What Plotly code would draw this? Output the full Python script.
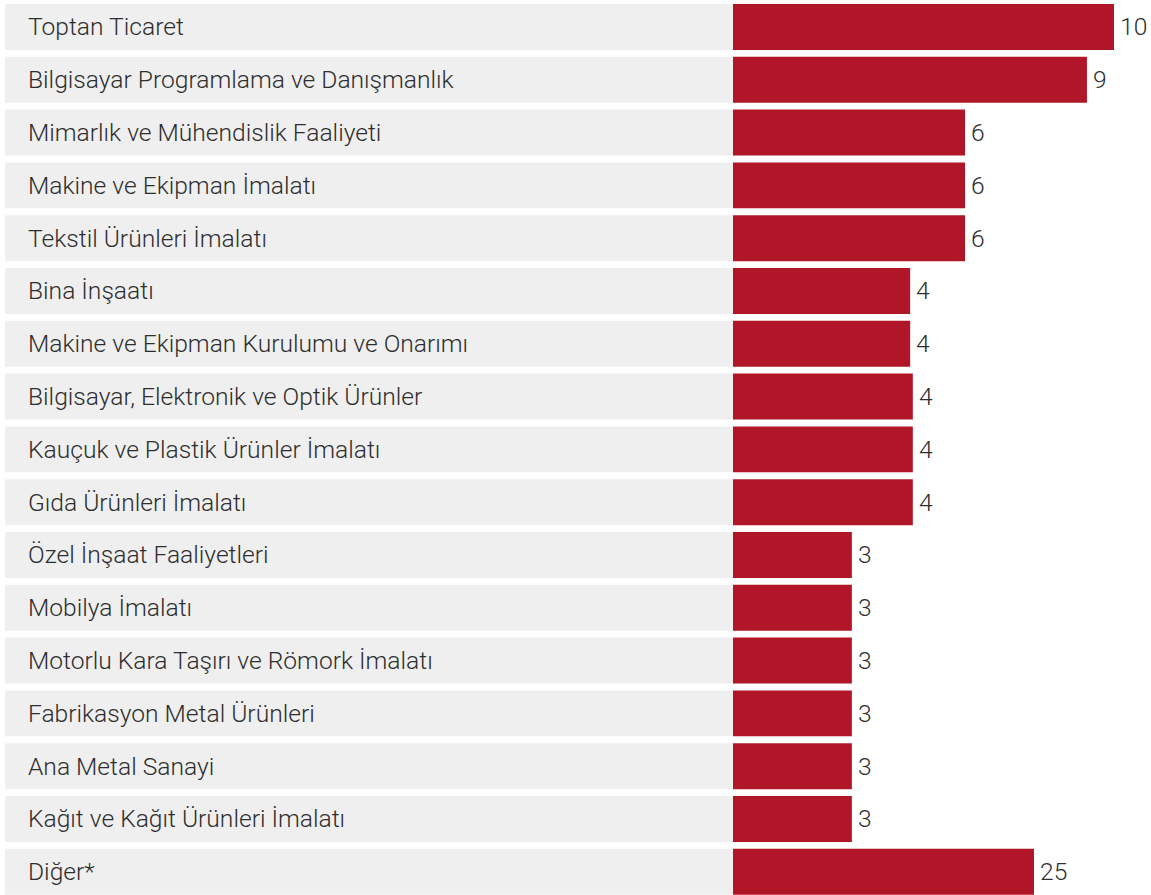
import plotly.graph_objects as go

categories = [
    "Toptan Ticaret",
    "Bilgisayar Programlama ve Danışmanlık",
    "Mimarlık ve Mühendislik Faaliyeti",
    "Makine ve Ekipman İmalatı",
    "Tekstil Ürünleri İmalatı",
    "Bina İnşaatı",
    "Makine ve Ekipman Kurulumu ve Onarımı",
    "Bilgisayar, Elektronik ve Optik Ürünler",
    "Kauçuk ve Plastik Ürünler İmalatı",
    "Gıda Ürünleri İmalatı",
    "Özel İnşaat Faaliyetleri",
    "Mobilya İmalatı",
    "Motorlu Kara Taşırı ve Römork İmalatı",
    "Fabrikasyon Metal Ürünleri",
    "Ana Metal Sanayi",
    "Kağıt ve Kağıt Ürünleri İmalatı",
    "Diğer*",
]
# displayed values (labels)
shares = [10, 9, 6, 6, 6, 4, 4, 4, 4, 4, 3, 3, 3, 3, 3, 3, 25]
# plotted bar lengths (the "Diğer*" bar is shortened in the original)
bar_lengths = [10.0, 9.29, 6.09, 6.09, 6.09, 4.65, 4.65, 4.72, 4.72, 4.72,
               3.12, 3.12, 3.12, 3.12, 3.12, 3.12, 7.9]
band = [1] * len(categories)

W, H = 1151, 895
RED = "#B01627"
GRAY = "#EFEFEF"
TXT = "#2E2E2E"
FONT = "Roboto"

fig = go.Figure()
fig.add_trace(go.Bar(
    y=categories, x=band, orientation="h", xaxis="x", yaxis="y",
    marker=dict(color=GRAY, line=dict(width=0)), hoverinfo="skip", showlegend=False,
))
fig.add_trace(go.Bar(
    y=categories, x=bar_lengths, orientation="h", xaxis="x2", yaxis="y",
    marker=dict(color=RED, line=dict(width=0)), showlegend=False,
    customdata=shares, hovertemplate="%{y}: %{customdata}<extra></extra>",
))

annotations = []
for c in categories:
    annotations.append(dict(
        x=0, y=c, xref="x", yref="y", text=c, showarrow=False,
        xanchor="left", yanchor="middle", xshift=21,
        font=dict(family=FONT, size=24.6, color=TXT, weight=300),
    ))
for c, v, L in zip(categories, shares, bar_lengths):
    annotations.append(dict(
        x=L, y=c, xref="x2", yref="y", text=str(v), showarrow=False,
        xanchor="left", yanchor="middle", xshift=4,
        font=dict(family=FONT, size=24.6, color=TXT, weight=300),
    ))

x2_scale = 38.1  # px per unit
fig.update_layout(
    width=W, height=H,
    margin=dict(l=0, r=0, t=0, b=0),
    paper_bgcolor="white", plot_bgcolor="white",
    barmode="overlay", bargap=0.129,
    xaxis=dict(domain=[5 / W, 733 / W], range=[0, 1], visible=False, fixedrange=True),
    xaxis2=dict(domain=[733 / W, 1.0], range=[0, (W - 733) / x2_scale], visible=False,
                anchor="y", fixedrange=True),
    yaxis=dict(categoryorder="array", categoryarray=categories,
               range=[16.44, -0.511], visible=False, fixedrange=True),
    annotations=annotations,
    font=dict(family=FONT),
)

fig.write_html("out.html", config={"displayModeBar": False},
               post_script="document.body.style.margin='0px';")
